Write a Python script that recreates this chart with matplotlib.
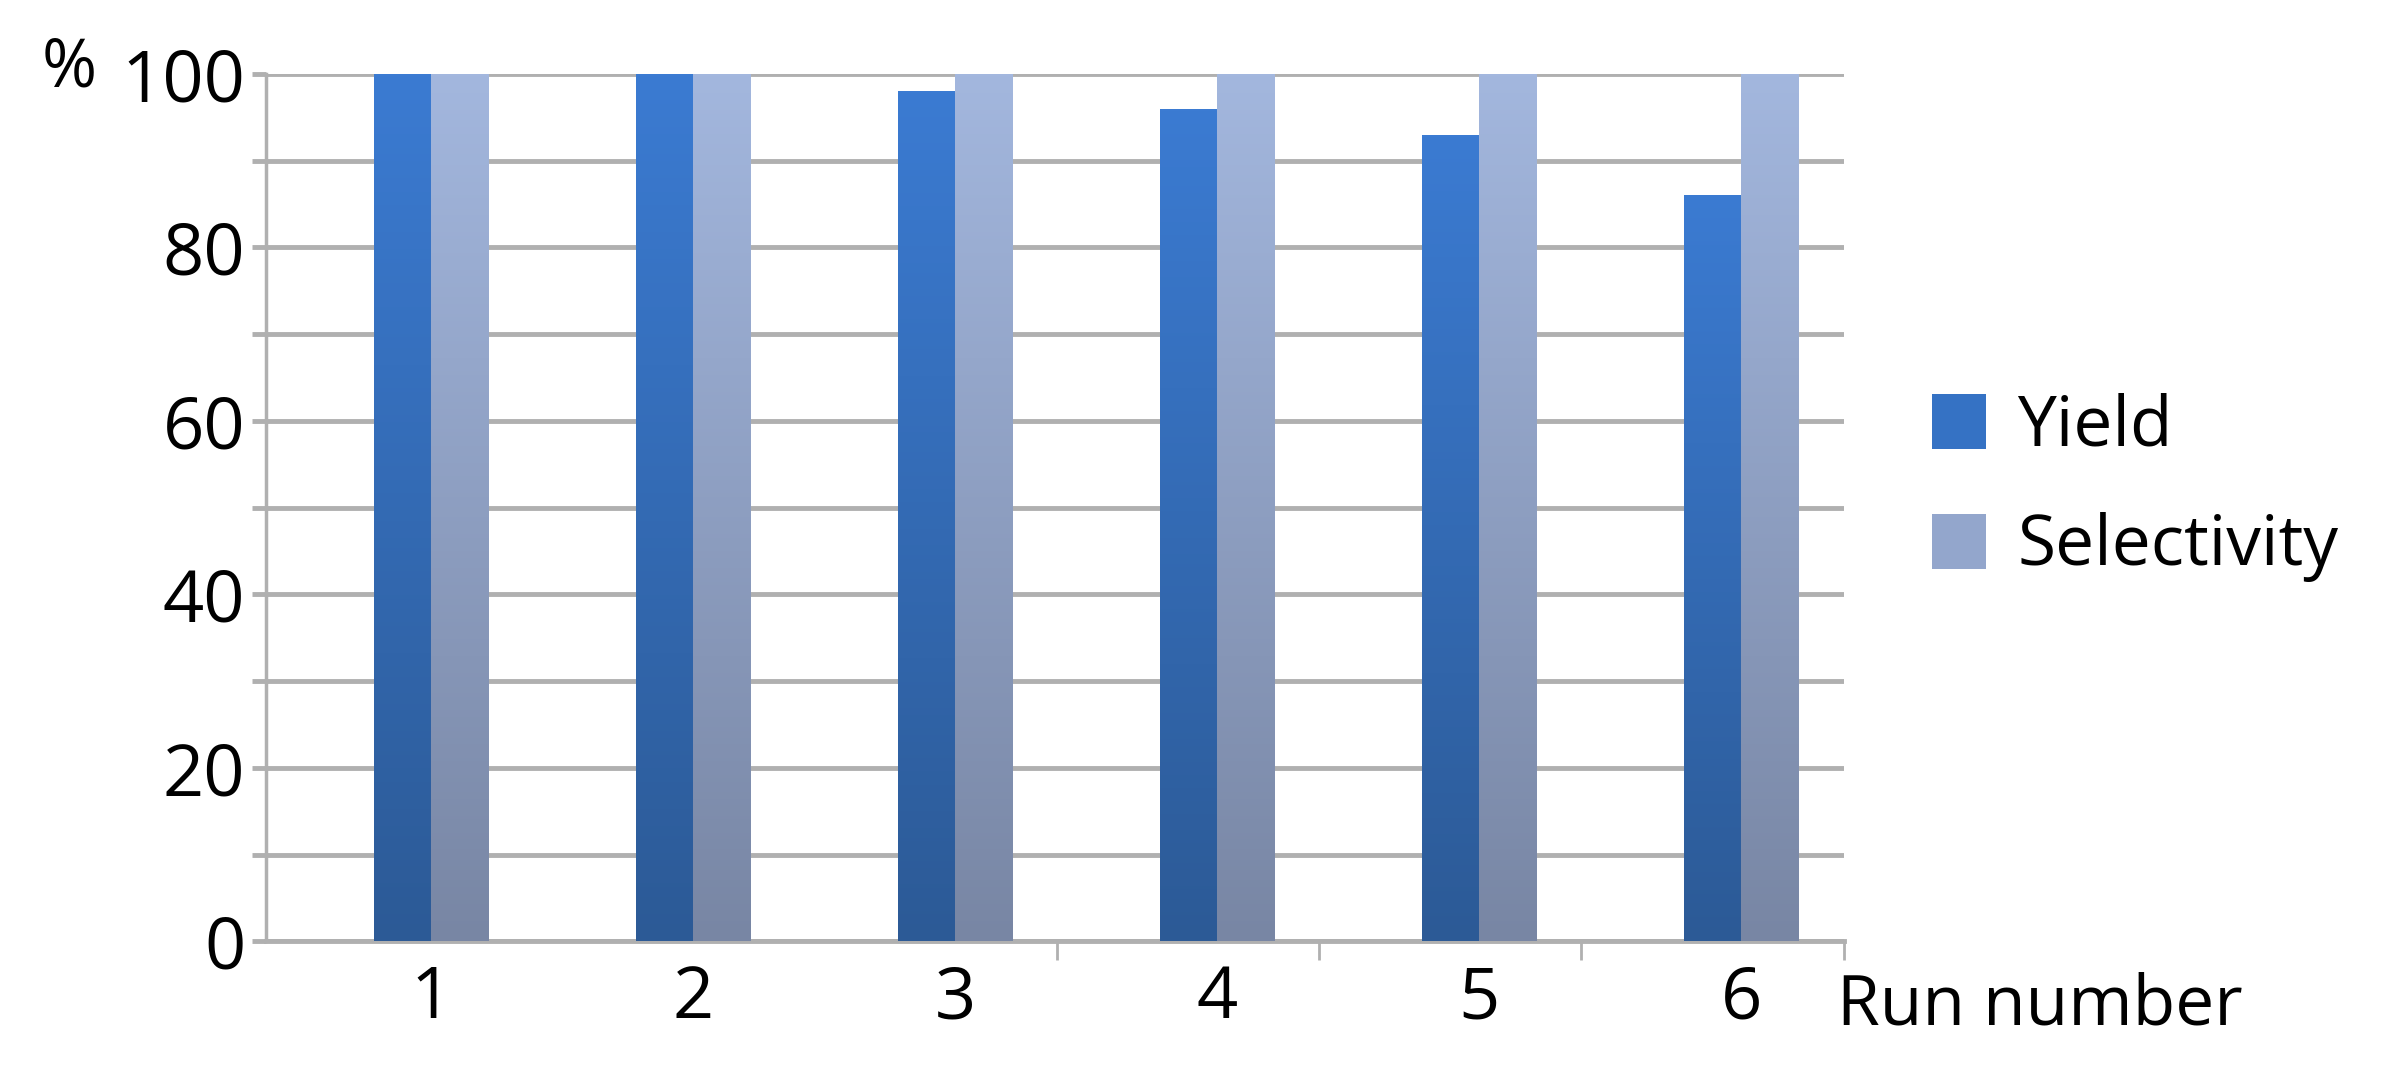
import numpy as np
import matplotlib.pyplot as plt
from matplotlib.colors import LinearSegmentedColormap
from matplotlib.ticker import MultipleLocator, FuncFormatter

runs = [1, 2, 3, 4, 5, 6]
yield_pct = [100, 100, 98, 96, 93, 86]
selectivity_pct = [100, 100, 100, 100, 100, 100]

plt.rcParams['font.family'] = ['Open Sans', 'DejaVu Sans']

GRID = '#b0b0b0'
yield_cmap = LinearSegmentedColormap.from_list('y', ['#2c5a96', '#3b7bd2'])
sel_cmap = LinearSegmentedColormap.from_list('s', ['#7886a4', '#a3b7de'])

fig = plt.figure(figsize=(23.86, 10.71), dpi=100)
ax = fig.add_axes([0.1116, 0.121, 0.6614, 0.810])

x = np.array(runs, dtype=float)
w = 0.22
b1 = ax.bar(x - w / 2, yield_pct, w, color='#3572c4', label='Yield', zorder=3)
b2 = ax.bar(x + w / 2, selectivity_pct, w, color='#93a6cc', label='Selectivity', zorder=3)

# vertical gradient inside each bar
grad = np.linspace(0, 1, 256).reshape(-1, 1)
for bars, cmap in ((b1, yield_cmap), (b2, sel_cmap)):
    for p in bars:
        x0, h = p.get_x(), p.get_height()
        im = ax.imshow(grad, cmap=cmap, origin='lower', aspect='auto',
                       extent=[x0, x0 + p.get_width(), 0, h], zorder=4)
        im.set_clip_path(p)

ax.set_xlim(0.37, 6.393)
ax.set_ylim(0, 100)

ax.yaxis.set_major_locator(MultipleLocator(10))
ax.yaxis.set_major_formatter(FuncFormatter(lambda v, _: f'{int(v)}' if int(v) % 20 == 0 else ''))
ax.grid(axis='y', color=GRID, lw=3.5, zorder=1)
ax.set_axisbelow(True)

ax.set_xticks(runs)
ax.set_xticks([3.387, 4.387, 5.387, 6.393], minor=True)
ax.tick_params(axis='x', which='major', length=0, pad=16, labelsize=52)
ax.tick_params(axis='x', which='minor', length=14, width=2, color=GRID)
ax.tick_params(axis='y', length=10, width=3.5, color=GRID, labelsize=52, pad=5)

for s in ('top', 'right'):
    ax.spines[s].set_visible(False)
ax.spines['left'].set_color(GRID)
ax.spines['left'].set_linewidth(2.5)
ax.spines['bottom'].set_color(GRID)
ax.spines['bottom'].set_linewidth(3.5)

fig.text(0.029, 0.936, '%', fontsize=48, ha='center', va='center')
fig.text(0.770, 0.060, 'Run number', fontsize=50, ha='left', va='center')

ax.legend(loc='center left', bbox_to_anchor=(0.795, 0.545), bbox_transform=fig.transFigure,
          frameon=False, fontsize=50, handlelength=0.78, handleheight=0.85, borderpad=0,
          handletextpad=0.45, labelspacing=0.72)

fig.savefig('out.png', dpi=100)
